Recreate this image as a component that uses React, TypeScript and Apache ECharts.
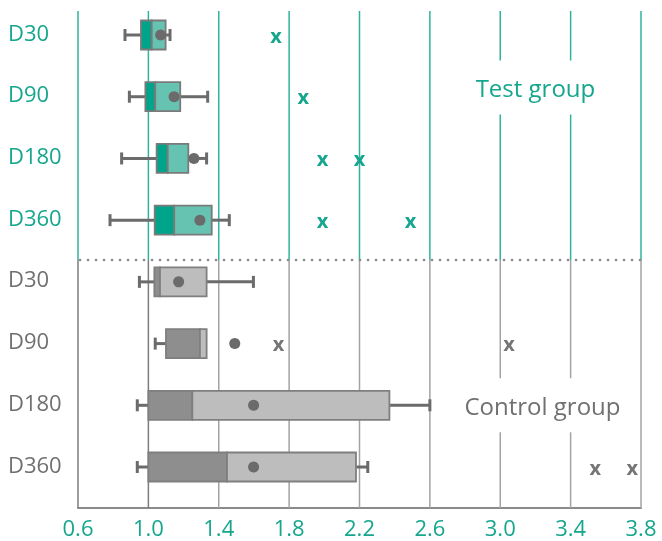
import React, { useEffect, useRef } from "react";
import * as echarts from "echarts";

const categories = ["D30", "D90", "D180", "D360", "D30", "D90", "D180", "D360"];
const groupOfRow = ["test", "test", "test", "test", "control", "control", "control", "control"];
const whiskerLow = [0.867, 0.892, 0.848, 0.782, 0.949, 1.039, 0.937, 0.937];
const q1 = [0.958, 0.983, 1.047, 1.036, 1.034, 1.1, 1.0, 1.0];
const median = [1.019, 1.039, 1.11, 1.147, 1.066, 1.293, 1.25, 1.447];
const q3 = [1.098, 1.181, 1.227, 1.36, 1.331, 1.331, 2.37, 2.18];
const whiskerHigh = [1.123, 1.337, 1.331, 1.46, 1.597, 1.331, 2.6, 2.247];
const means = [1.07, 1.146, 1.259, 1.293, 1.172, 1.491, 1.598, 1.598];
const outlierRows = [0, 1, 2, 2, 3, 3, 5, 5, 7, 7];
const outlierValues = [1.725, 1.88, 1.99, 2.2, 1.99, 2.49, 1.74, 3.05, 3.54, 3.75];
const xTicks = [0.6, 1.0, 1.4, 1.8, 2.2, 2.6, 3.0, 3.4, 3.8];
const groupLabels = ["Test group", "Control group"];
const groupLabelPos = [
  [3.2, 0.85],
  [3.24, 6.0],
];

const TEAL = "#15a68d";
const GREY_TEXT = "#707070";
const WHISKER = "#6b6b6b";
const FONT = "Open Sans";
const DIVIDER = 3.646;
const Y_MIN = -0.389;
const Y_MAX = 7.664;

export default function App() {
  const ref = useRef<HTMLDivElement>(null);
  useEffect(() => {
    const chart = echarts.init(ref.current!, null, { renderer: "svg" });
    const boxData = categories.map((_, i) => [i, whiskerLow[i], q1[i], median[i], q3[i], whiskerHigh[i]]);
    const option: any = {
      animation: false,
      grid: { left: 78, right: 21, top: 11, bottom: 33, containLabel: false, outerBoundsMode: "none" },
      xAxis: {
        type: "value",
        min: 0.6,
        max: 3.8,
        splitLine: { show: false },
        axisTick: { show: false },
        axisLine: { show: true, onZero: false, lineStyle: { color: "#8a8a8a", width: 2 } },
        axisLabel: {
          customValues: xTicks,
          formatter: (v: number) => v.toFixed(1),
          color: TEAL,
          fontSize: 22,
          fontFamily: FONT,
          margin: 8,
        },
      },
      yAxis: {
        type: "value",
        inverse: true,
        min: Y_MIN,
        max: Y_MAX,
        splitLine: { show: false },
        axisTick: { show: false },
        axisLine: { show: false, onZero: false },
        axisLabel: {
          customValues: categories.map((_, i) => i),
          align: "left",
          margin: 70,
          formatter: (v: number) => {
            const i = Math.round(v);
            return `{${groupOfRow[i] === "test" ? "t" : "c"}|${categories[i]}}`;
          },
          rich: {
            t: { color: TEAL, fontSize: 22, fontFamily: FONT, padding: [0, 0, 7, 0] },
            c: { color: GREY_TEXT, fontSize: 22, fontFamily: FONT, padding: [0, 0, 7, 0] },
          },
        },
      },
      series: [
        {
          type: "custom",
          name: "gridlines",
          z: 1,
          data: xTicks.map((v) => [v]),
          renderItem: (params: any, api: any) => {
            const cs = params.coordSys;
            const x = api.coord([api.value(0), 0])[0];
            const yd = api.coord([0.6, DIVIDER])[1];
            const v = api.value(0);
            const dark = Math.abs(v - 1.0) < 1e-6 || Math.abs(v - 0.6) < 1e-6;
            return {
              type: "group",
              children: [
                { type: "line", shape: { x1: x, y1: cs.y, x2: x, y2: yd }, style: { stroke: "#2fb39b", lineWidth: 1.5 } },
                {
                  type: "line",
                  shape: { x1: x, y1: yd, x2: x, y2: cs.y + cs.height },
                  style: { stroke: dark ? "#7d7d7d" : "#a3a3a3", lineWidth: 1.5 },
                },
              ],
            };
          },
        },
        {
          type: "custom",
          name: "divider",
          z: 2,
          data: [[DIVIDER]],
          renderItem: (params: any, api: any) => {
            const cs = params.coordSys;
            const y = api.coord([0.6, api.value(0)])[1];
            return {
              type: "line",
              shape: { x1: cs.x + 2, y1: y, x2: cs.x + cs.width, y2: y },
              style: { stroke: "#8a8a8a", lineWidth: 2.6, lineDash: [0.1, 7.9], lineCap: "round" },
            };
          },
        },
        {
          type: "custom",
          name: "groups",
          z: 3,
          data: groupLabels.map((_, i) => [groupLabelPos[i][0], groupLabelPos[i][1], i]),
          renderItem: (params: any, api: any) => {
            const p = api.coord([api.value(0), api.value(1)]);
            const i = api.value(2);
            return {
              type: "text",
              style: {
                text: groupLabels[i],
                x: p[0],
                y: p[1],
                align: "center",
                verticalAlign: "middle",
                fontSize: 24,
                fontFamily: FONT,
                fill: i === 0 ? TEAL : GREY_TEXT,
                backgroundColor: "#ffffff",
                padding: [15, 6],
              },
            };
          },
        },
        {
          type: "custom",
          name: "boxes",
          z: 4,
          data: boxData,
          renderItem: (params: any, api: any) => {
            const row = api.value(0);
            const test = groupOfRow[row] === "test";
            const yc = api.coord([1, row])[1];
            const px = (v: number) => api.coord([v, row])[0];
            const wl = px(api.value(1));
            const b1 = px(api.value(2));
            const md = px(api.value(3));
            const b3 = px(api.value(4));
            const wh = px(api.value(5));
            const h = 29;
            const cap = 6;
            const border = test ? "#7a7a7a" : "#7f7f7f";
            const children: any[] = [];
            const wStyle = { stroke: WHISKER, lineWidth: 3 };
            if (wl < b1) {
              children.push({ type: "line", shape: { x1: wl, y1: yc, x2: b1, y2: yc }, style: wStyle });
              children.push({ type: "line", shape: { x1: wl, y1: yc - cap, x2: wl, y2: yc + cap }, style: wStyle });
            }
            if (wh > b3 + 0.5) {
              children.push({ type: "line", shape: { x1: b3, y1: yc, x2: wh, y2: yc }, style: wStyle });
              children.push({ type: "line", shape: { x1: wh, y1: yc - cap, x2: wh, y2: yc + cap }, style: wStyle });
            }
            children.push({
              type: "rect",
              shape: { x: b1, y: yc - h / 2, width: md - b1, height: h },
              style: { fill: test ? "#00a48a" : "#8e8e8e", stroke: border, lineWidth: 1.8 },
            });
            children.push({
              type: "rect",
              shape: { x: md, y: yc - h / 2, width: b3 - md, height: h },
              style: { fill: test ? "#67c3b1" : "#bdbdbd", stroke: border, lineWidth: 1.8 },
            });
            return { type: "group", children };
          },
        },
        {
          type: "scatter",
          name: "mean",
          z: 5,
          symbolSize: 11,
          itemStyle: { color: WHISKER, opacity: 1 },
          data: means.map((m, i) => [m, i]),
        },
        {
          type: "custom",
          name: "outliers",
          z: 5,
          data: outlierValues.map((v, i) => [v, outlierRows[i]]),
          renderItem: (params: any, api: any) => {
            const row = api.value(1);
            const p = api.coord([api.value(0), row]);
            return {
              type: "text",
              style: {
                text: "x",
                x: p[0],
                y: p[1],
                align: "center",
                verticalAlign: "middle",
                fontSize: 20,
                fontWeight: "bold",
                fontFamily: FONT,
                fill: groupOfRow[row] === "test" ? TEAL : "#757575",
              },
            };
          },
        },
      ],
    };
    chart.setOption(option);
    return () => chart.dispose();
  }, []);
  return <div ref={ref} style={{ position: "fixed", left: 0, top: 0, width: 662, height: 541 }} />;
}
